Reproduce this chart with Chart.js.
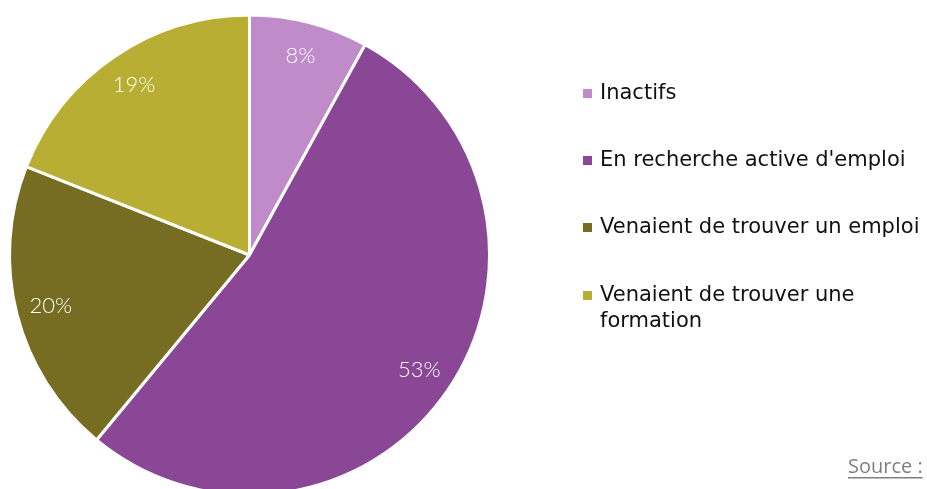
<!DOCTYPE html>
<html>
<head>
<meta charset="utf-8">
<script src="https://cdn.jsdelivr.net/npm/chart.js@4"></script>
<style>
  html, body { margin: 0; padding: 0; background: #fff; overflow: hidden; }
  #wrap { position: relative; width: 927px; height: 489px; }
</style>
</head>
<body>
<div id="wrap"><canvas id="pie" width="927" height="489"></canvas></div>
<script>
// categories and shares (%)
const categories = [
    "Inactifs",
    "En recherche active d'emploi",
    "Venaient de trouver un emploi",
    ["Venaient de trouver une", "formation"]
];
const shares = [8, 53, 20, 19];
const colors = ["#C08BC9", "#8A4795", "#776D22", "#B8AE33"];
const sourceText = "Source :";

// percentage labels drawn inside the slices
const sliceLabels = {
    id: "sliceLabels",
    afterDatasetsDraw(chart) {
        const ctx = chart.ctx;
        const meta = chart.getDatasetMeta(0);
        ctx.save();
        ctx.fillStyle = "#ffffff";
        ctx.font = "300 22px Lato, 'Open Sans', sans-serif";
        ctx.textAlign = "center";
        ctx.textBaseline = "middle";
        meta.data.forEach((arc, i) => {
            const mid = (arc.startAngle + arc.endAngle) / 2;
            const r = arc.outerRadius * 0.855;
            ctx.fillText(shares[i] + "%", arc.x + Math.cos(mid) * r, arc.y + Math.sin(mid) * r);
        });
        ctx.restore();
    }
};

// legend on the right, one entry per category
const sideLegend = {
    id: "sideLegend",
    afterDraw(chart) {
        const ctx = chart.ctx;
        const rows = [93, 160, 227, 295];
        ctx.save();
        ctx.font = "21px 'DejaVu Sans', Verdana, sans-serif";
        ctx.textBaseline = "middle";
        ctx.textAlign = "left";
        categories.forEach((label, i) => {
            const y = rows[i];
            ctx.fillStyle = colors[i];
            ctx.fillRect(583, y - 4, 9, 9);
            ctx.fillStyle = "#111111";
            const lines = Array.isArray(label) ? label : [label];
            lines.forEach((line, j) => {
                ctx.fillText(line, 600, y + 1 + j * 26);
            });
        });

        // source note, cut by the right edge
        ctx.font = "20px 'Open Sans', Carlito, sans-serif";
        ctx.fillStyle = "#7f7f7f";
        ctx.textBaseline = "alphabetic";
        ctx.fillText(sourceText, 848, 473);
        const w = ctx.measureText(sourceText).width;
        ctx.fillRect(848, 477, w, 1.5);
        ctx.restore();
    }
};

new Chart(document.getElementById("pie"), {
    type: "pie",
    data: {
        labels: categories,
        datasets: [{
            data: shares,
            backgroundColor: colors,
            borderColor: "#ffffff",
            borderWidth: 3
        }]
    },
    options: {
        responsive: false,
        animation: false,
        radius: 240,
        layout: { padding: { left: 0, right: 428, top: 21, bottom: 0 } },
        plugins: {
            legend: { display: false },
            tooltip: { enabled: false }
        }
    },
    plugins: [sliceLabels, sideLegend]
});
</script>
</body>
</html>
